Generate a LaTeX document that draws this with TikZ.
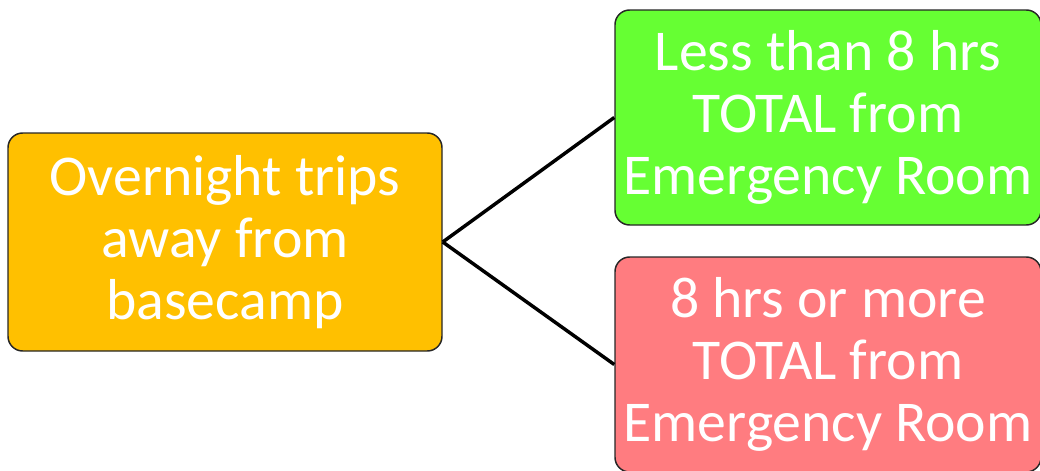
\documentclass[tikz,border=0pt]{standalone}
\usepackage{fontspec}
\setmainfont{Carlito}
\begin{document}
\begin{tikzpicture}[x=0.75pt,y=-0.75pt,
  box/.style={draw=black!85, line width=1.1pt, rounded corners=11pt, text=white, align=center,
    font=\fontsize{43.3}{46.5}\selectfont, inner sep=0pt},
  link/.style={draw=black, line width=2.6pt}]
\useasboundingbox (0,0) rectangle (1040,471);
\node[box, fill={rgb,255:red,255;green,192;blue,0}, minimum width=325.5pt, minimum height=163.5pt] (src) at (225,242) {Overnight trips\\away from\\basecamp};
\node[box, fill={rgb,255:red,102;green,255;blue,51}, minimum width=319.5pt, minimum height=161.25pt] (less) at (828,117.5) {Less than 8 hrs\\TOTAL from\\Emergency Room};
\node[box, fill={rgb,255:red,255;green,124;blue,128}, minimum width=319.5pt, minimum height=161.25pt] (more) at (828,364.5) {8 hrs or more\\TOTAL from\\Emergency Room};
\draw[link] (src.east) -- (less.west);
\draw[link] (src.east) -- (more.west);
\end{tikzpicture}
\end{document}
